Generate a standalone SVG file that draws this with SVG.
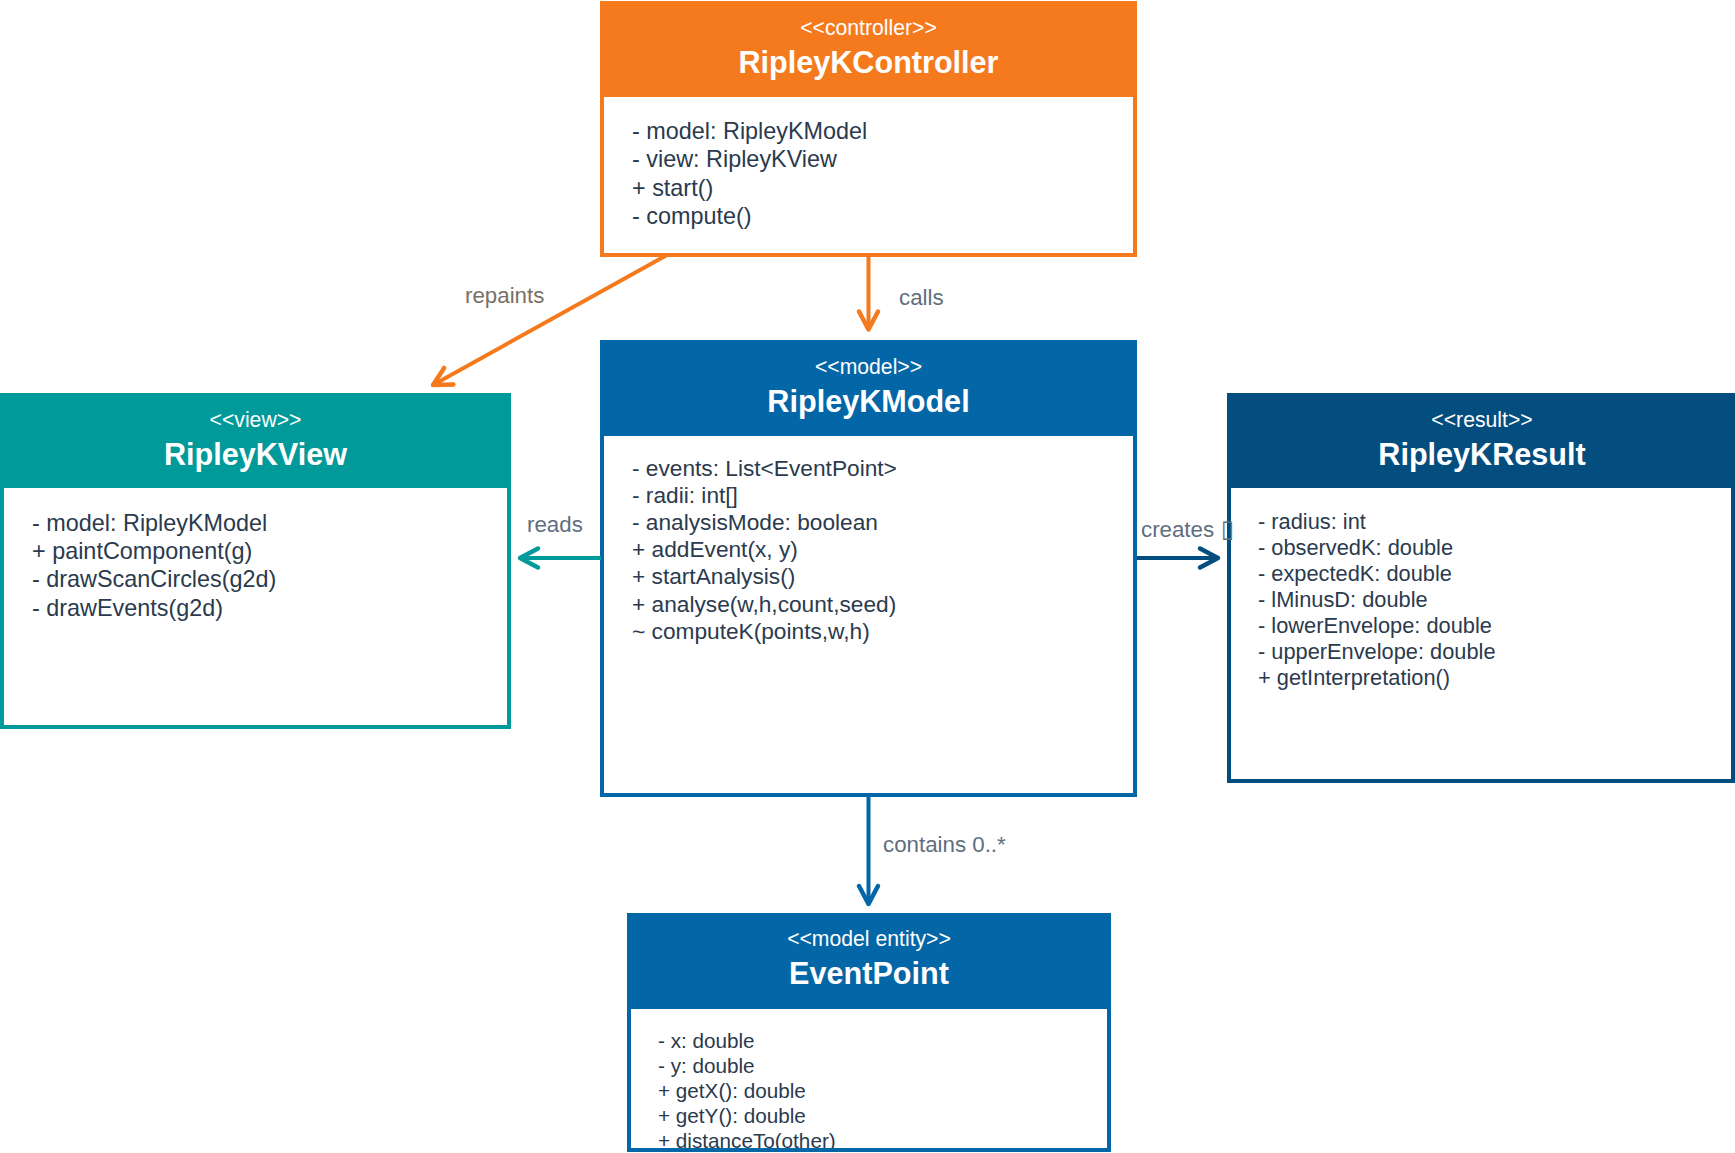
<svg xmlns="http://www.w3.org/2000/svg" width="1735" height="1153" viewBox="0 0 1735 1153">
<defs>
<style>
.sub{font-family:"Liberation Sans",Arial,sans-serif;font-size:21.2px;fill:#ffffff;text-anchor:middle}
.title{font-family:"Liberation Sans",Arial,sans-serif;font-size:30.6px;font-weight:bold;fill:#ffffff;text-anchor:middle}
.body{font-family:"Liberation Sans",Arial,sans-serif;fill:#2B3A4D}
.lbl{font-family:"Liberation Sans",Arial,sans-serif;font-size:22.3px;fill:#5F6E7E}
.conn{fill:none;stroke-width:4}
</style>
<marker id="a-orange" viewBox="0 0 24 26" refX="20" refY="13" markerWidth="24" markerHeight="26" markerUnits="userSpaceOnUse" orient="auto" overflow="visible"><path d="M2,3.5 L20,13 L2,22.5" fill="none" stroke="#F57A1D" stroke-width="4.5" stroke-linejoin="round" stroke-linecap="round"/></marker>
<marker id="a-teal" viewBox="0 0 24 26" refX="20" refY="13" markerWidth="24" markerHeight="26" markerUnits="userSpaceOnUse" orient="auto" overflow="visible"><path d="M2,3.5 L20,13 L2,22.5" fill="none" stroke="#009A9A" stroke-width="4.5" stroke-linejoin="round" stroke-linecap="round"/></marker>
<marker id="a-blue" viewBox="0 0 24 26" refX="20" refY="13" markerWidth="24" markerHeight="26" markerUnits="userSpaceOnUse" orient="auto" overflow="visible"><path d="M2,3.5 L20,13 L2,22.5" fill="none" stroke="#0366A7" stroke-width="4.5" stroke-linejoin="round" stroke-linecap="round"/></marker>
<marker id="a-dark" viewBox="0 0 24 26" refX="20" refY="13" markerWidth="24" markerHeight="26" markerUnits="userSpaceOnUse" orient="auto" overflow="visible"><path d="M2,3.5 L20,13 L2,22.5" fill="none" stroke="#034E7E" stroke-width="4.5" stroke-linejoin="round" stroke-linecap="round"/></marker>
</defs>
<rect width="1735" height="1153" fill="#ffffff"/>

<g id="RipleyKController">
<rect x="602" y="3" width="533" height="252" fill="#ffffff" stroke="#F57A1D" stroke-width="4"/>
<rect x="600" y="1" width="537" height="96" fill="#F57A1D"/>
<text class="sub" x="868.5" y="35">&lt;&lt;controller&gt;&gt;</text>
<text class="title" x="868.5" y="73">RipleyKController</text>
<text class="body" font-size="23.4">
<tspan x="632" y="139">- model: RipleyKModel</tspan>
<tspan x="632" y="167.4">- view: RipleyKView</tspan>
<tspan x="632" y="195.8">+ start()</tspan>
<tspan x="632" y="224.2">- compute()</tspan>
</text>
</g>

<g id="RipleyKView">
<rect x="2" y="395" width="507" height="332" fill="#ffffff" stroke="#009A9A" stroke-width="4"/>
<rect x="0" y="393" width="511" height="95" fill="#009A9A"/>
<text class="sub" x="255.5" y="427">&lt;&lt;view&gt;&gt;</text>
<text class="title" x="255.5" y="465">RipleyKView</text>
<text class="body" font-size="23.4">
<tspan x="32" y="530.5">- model: RipleyKModel</tspan>
<tspan x="32" y="558.9">+ paintComponent(g)</tspan>
<tspan x="32" y="587.3">- drawScanCircles(g2d)</tspan>
<tspan x="32" y="615.7">- drawEvents(g2d)</tspan>
</text>
</g>

<g id="RipleyKModel">
<rect x="602" y="342" width="533" height="453" fill="#ffffff" stroke="#0366A7" stroke-width="4"/>
<rect x="600" y="340" width="537" height="96" fill="#0366A7"/>
<text class="sub" x="868.5" y="374">&lt;&lt;model&gt;&gt;</text>
<text class="title" x="868.5" y="412">RipleyKModel</text>
<text class="body" font-size="22.7">
<tspan x="632" y="476">- events: List&lt;EventPoint&gt;</tspan>
<tspan x="632" y="503.1">- radii: int[]</tspan>
<tspan x="632" y="530.2">- analysisMode: boolean</tspan>
<tspan x="632" y="557.3">+ addEvent(x, y)</tspan>
<tspan x="632" y="584.4">+ startAnalysis()</tspan>
<tspan x="632" y="611.5">+ analyse(w,h,count,seed)</tspan>
<tspan x="632" y="638.6">~ computeK(points,w,h)</tspan>
</text>
</g>

<g id="RipleyKResult">
<rect x="1229" y="395" width="504" height="386" fill="#ffffff" stroke="#034E7E" stroke-width="4"/>
<rect x="1227" y="393" width="508" height="95" fill="#034E7E"/>
<text class="sub" x="1482" y="427">&lt;&lt;result&gt;&gt;</text>
<text class="title" x="1482" y="465">RipleyKResult</text>
<text class="body" font-size="21.8">
<tspan x="1258" y="529">- radius: int</tspan>
<tspan x="1258" y="555">- observedK: double</tspan>
<tspan x="1258" y="581">- expectedK: double</tspan>
<tspan x="1258" y="607">- lMinusD: double</tspan>
<tspan x="1258" y="633">- lowerEnvelope: double</tspan>
<tspan x="1258" y="659">- upperEnvelope: double</tspan>
<tspan x="1258" y="685">+ getInterpretation()</tspan>
</text>
</g>

<g id="EventPoint">
<rect x="629" y="915" width="480" height="235" fill="#ffffff"/>
<rect x="627" y="913" width="484" height="96" fill="#0366A7"/>
<text class="sub" x="869" y="946">&lt;&lt;model entity&gt;&gt;</text>
<text class="title" x="869" y="984">EventPoint</text>
<text class="body" font-size="20.7">
<tspan x="658" y="1047.5">- x: double</tspan>
<tspan x="658" y="1072.5">- y: double</tspan>
<tspan x="658" y="1097.5">+ getX(): double</tspan>
<tspan x="658" y="1122.5">+ getY(): double</tspan>
<tspan x="658" y="1147.5">+ distanceTo(other)</tspan>
</text>
<rect x="629" y="915" width="480" height="235" fill="none" stroke="#0366A7" stroke-width="4"/>
</g>

<g id="connectors">
<path class="conn" d="M868.5,257 V329.5" stroke="#F57A1D" marker-end="url(#a-orange)"/>
<path class="conn" d="M667,255 L433,385" stroke="#F57A1D" marker-end="url(#a-orange)"/>
<path class="conn" d="M601,558 H520" stroke="#009A9A" marker-end="url(#a-teal)"/>
<path class="conn" d="M1137,558 H1218" stroke="#034E7E" marker-end="url(#a-dark)"/>
<path class="conn" d="M868.5,797 V904" stroke="#0366A7" marker-end="url(#a-blue)"/>
<text class="lbl" x="465" y="303" style="fill:#7A6F66">repaints</text>
<text class="lbl" x="899" y="305">calls</text>
<text class="lbl" x="527" y="532">reads</text>
<text class="lbl" x="1141" y="537">creates <tspan x="1221" font-family="'DejaVu Sans',sans-serif" font-size="24">▯</tspan></text>
<text class="lbl" x="883" y="852">contains 0..*</text>
</g>
</svg>
